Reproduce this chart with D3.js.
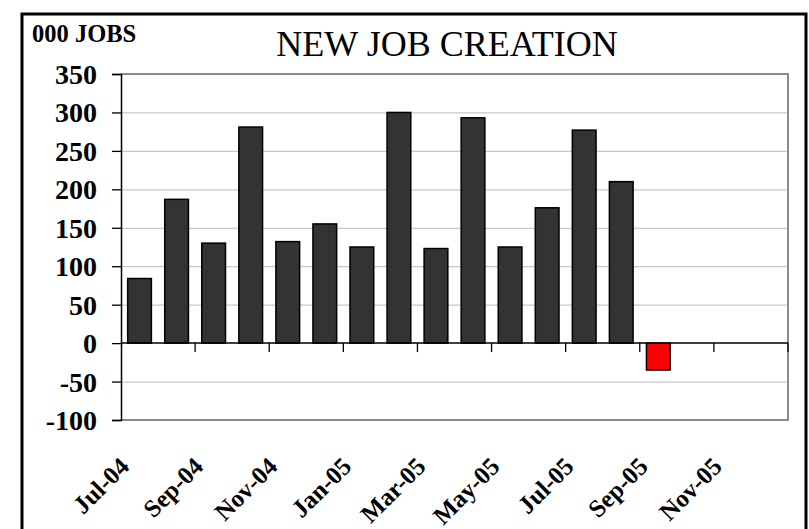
<!DOCTYPE html>
<html>
<head>
<meta charset="utf-8">
<script src="https://cdn.jsdelivr.net/npm/d3@7"></script>
<style>
  html, body { margin: 0; padding: 0; background: #fff; }
</style>
</head>
<body>
<div id="chart"></div>
<script>
const months = ['Jul-04', 'Aug-04', 'Sep-04', 'Oct-04', 'Nov-04', 'Dec-04',
  'Jan-05', 'Feb-05', 'Mar-05', 'Apr-05', 'May-05', 'Jun-05',
  'Jul-05', 'Aug-05', 'Sep-05', 'Oct-05', 'Nov-05', 'Dec-05'];
const jobs = [84, 187, 130, 281, 132, 155, 125, 300, 123, 293, 125, 176, 277, 210, -35, null, null, null];
const tickLabels = ['Jul-04', 'Sep-04', 'Nov-04', 'Jan-05', 'Mar-05', 'May-05', 'Jul-05', 'Sep-05', 'Nov-05'];
const yTicks = [-100, -50, 0, 50, 100, 150, 200, 250, 300, 350];

const width = 809;
const height = 529;
const plot = { left: 121, right: 788, top: 74, bottom: 420 };
const serif = '"Liberation Serif", "Times New Roman", Times, "DejaVu Serif", serif';

const svg = d3.select('#chart')
  .append('svg')
  .attr('width', width)
  .attr('height', height)
  .style('display', 'block')
  .attr('font-family', serif);

// outer frame (bottom edge runs off the picture)
svg.append('rect')
  .attr('x', 22)
  .attr('y', 14)
  .attr('width', 784)
  .attr('height', 540)
  .attr('fill', 'none')
  .attr('stroke', '#000')
  .attr('stroke-width', 3);

const xScale = d3.scaleBand()
  .domain(months)
  .range([plot.left, plot.right])
  .paddingInner(0.36)
  .paddingOuter(0.18);

const yScale = d3.scaleLinear()
  .domain([-100, 350])
  .range([plot.bottom, plot.top]);

// gridlines
svg.append('g')
  .attr('class', 'gridlines')
  .attr('transform', `translate(${plot.left}, 0)`)
  .call(d3.axisLeft(yScale).tickValues(yTicks.filter(d => d > -100 && d < 350 && d !== 0))
    .tickFormat('').tickSize(-(plot.right - plot.left)))
  .call(g => g.select('.domain').remove())
  .call(g => g.selectAll('line').attr('stroke', '#c8c8c8').attr('stroke-width', 1.2));

// plot border (top, right, bottom)
svg.append('path')
  .attr('d', `M${plot.left},${yScale(350)}H${plot.right}V${yScale(-100)}H${plot.left}`)
  .attr('fill', 'none')
  .attr('stroke', '#8a8a8a')
  .attr('stroke-width', 2);

// bars
svg.append('g')
  .selectAll('rect')
  .data(months.map((m, i) => ({ month: m, value: jobs[i] })).filter(d => d.value !== null))
  .join('rect')
  .attr('x', d => xScale(d.month))
  .attr('y', d => yScale(Math.max(0, d.value)))
  .attr('width', xScale.bandwidth())
  .attr('height', d => Math.abs(yScale(d.value) - yScale(0)))
  .attr('fill', d => d.value < 0 ? '#ff0000' : '#333333')
  .attr('stroke', '#000')
  .attr('stroke-width', 1.5);

// y axis
const yAxis = svg.append('g')
  .attr('transform', `translate(${plot.left}, 0)`)
  .call(d3.axisLeft(yScale).tickValues(yTicks).tickSize(9).tickPadding(15)
    .tickFormat(d => String(d)));
yAxis.attr('font-family', serif);
yAxis.select('.domain').attr('stroke', '#000').attr('stroke-width', 1.5);
yAxis.selectAll('line').attr('stroke', '#000').attr('stroke-width', 1.3);
yAxis.selectAll('text')
  .attr('font-size', 28)
  .attr('font-weight', 'bold')
  .attr('fill', '#000')
  .attr('dy', '0.34em');

// zero line with category ticks every two months
const step = xScale.step();
const edge = (i) => xScale(months[0]) - step * 0.18 + i * step;
svg.append('line')
  .attr('x1', plot.left).attr('x2', plot.right)
  .attr('y1', yScale(0)).attr('y2', yScale(0))
  .attr('stroke', '#000').attr('stroke-width', 1.5);
svg.append('g')
  .selectAll('line')
  .data(d3.range(2, months.length + 1, 2))
  .join('line')
  .attr('x1', i => edge(i)).attr('x2', i => edge(i))
  .attr('y1', yScale(0)).attr('y2', yScale(0) + 9)
  .attr('stroke', '#000').attr('stroke-width', 1.3);

// rotated month labels
svg.append('g')
  .selectAll('text')
  .data(tickLabels)
  .join('text')
  .attr('transform', d => `translate(${xScale(d) + xScale.bandwidth() / 2 - 9}, 468) rotate(-45)`)
  .attr('text-anchor', 'end')
  .attr('font-size', 25)
  .attr('font-weight', 'bold')
  .text(d => d);

// titles
svg.append('text')
  .attr('x', 447)
  .attr('y', 56)
  .attr('text-anchor', 'middle')
  .attr('font-size', 36)
  .text('NEW JOB CREATION');

svg.append('text')
  .attr('x', 32)
  .attr('y', 42)
  .attr('font-size', 24.5)
  .attr('font-weight', 'bold')
  .text('000 JOBS');
</script>
</body>
</html>
